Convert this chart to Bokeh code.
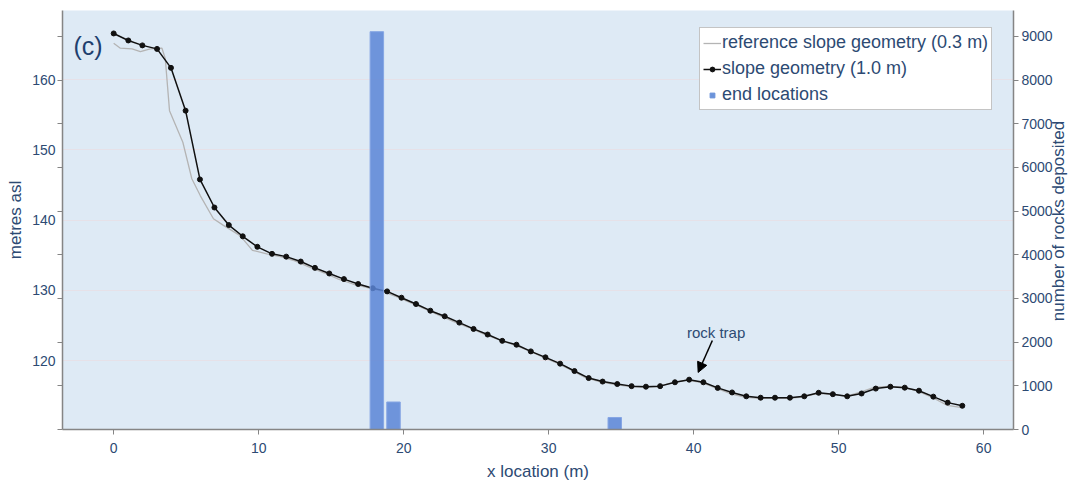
import math
from bokeh.plotting import figure
from bokeh.models import (Range1d, LinearAxis, FixedTicker, Legend, LegendItem,
                          Label, Arrow, NormalHead, ColumnDataSource)
from bokeh.embed import file_html
from bokeh.resources import INLINE

# ---------------- data ----------------
slope_x = [0.00, 1.01, 1.98, 2.99, 3.95, 4.96, 5.95, 6.95, 7.94, 8.90,
           9.91, 10.92, 11.90, 12.90, 13.88, 14.87, 15.88, 16.86, 17.87, 18.86,
           19.85, 20.85, 21.84, 22.83, 23.84, 24.82, 25.79, 26.80, 27.78, 28.77,
           29.78, 30.79, 31.78, 32.76, 33.72, 34.73, 35.72, 36.71, 37.69, 38.71,
           39.69, 40.67, 41.66, 42.65, 43.63, 44.62, 45.61, 46.64, 47.63, 48.62,
           49.60, 50.59, 51.58, 52.56, 53.57, 54.56, 55.54, 56.53, 57.52, 58.53]
slope_y = [166.6, 165.6, 164.9, 164.4, 161.7, 155.6, 145.8, 141.8, 139.3, 137.7,
           136.2, 135.2, 134.8, 134.1, 133.2, 132.4, 131.6, 130.9, 130.3, 129.85,
           128.95, 128.05, 127.1, 126.3, 125.4, 124.5, 123.7, 122.8, 122.25, 121.3,
           120.45, 119.55, 118.5, 117.5, 117.0, 116.65, 116.35, 116.27, 116.35, 116.9,
           117.27, 116.9, 116.1, 115.45, 114.9, 114.7, 114.7, 114.7, 114.9, 115.4,
           115.2, 114.9, 115.3, 116.0, 116.27, 116.13, 115.7, 114.85, 114.0, 113.55]

ref_x = [0.0, 0.46, 1.27, 1.84, 2.53, 3.33, 3.56, 3.85, 4.77, 5.39,
         5.97, 6.88, 7.57, 8.72, 9.57, 10.56, 11.5, 12.5, 13.5, 14.5,
         15.5, 16.5, 17.5, 18.5, 19.5, 20.5, 21.5, 22.5, 23.5, 24.5,
         25.5, 26.5, 27.5, 28.5, 29.5, 30.5, 31.5, 32.5, 33.5, 34.5,
         35.5, 36.5, 37.5, 38.5, 39.5, 40.5, 41.5, 42.5, 43.5, 44.5,
         45.5, 46.5, 47.5, 48.5, 49.5, 50.5, 51.5, 52.5, 53.5, 54.5,
         55.5, 56.5, 57.5, 58.5]
ref_y = [165.2, 164.5, 164.4, 164.0, 164.4, 164.5, 163.0, 155.6, 151.1, 145.9,
         143.5, 140.2, 139.25, 137.8, 135.7, 135.2, 134.8, 134.2, 133.3, 132.5,
         131.6, 130.9, 130.4, 129.9, 129.1, 128.2, 127.3, 126.4, 125.5, 124.7,
         123.8, 123.0, 122.3, 121.5, 120.6, 119.7, 118.7, 117.6, 117.0, 116.6,
         116.3, 116.2, 116.3, 116.8, 117.2, 116.9, 116.1, 115.3, 114.8, 114.6,
         114.6, 114.6, 114.8, 115.3, 115.2, 114.9, 115.5, 116.2, 116.3, 116.2,
         115.6, 114.7, 113.6, 113.3]

bar_x = [18.15, 19.30, 34.56]
bar_counts = [9110, 630, 275]
bar_width = 0.93

x_ticks = [0, 10, 20, 30, 40, 50, 60]
metre_ticks = [120, 130, 140, 150, 160]
rock_ticks = [0, 1000, 2000, 3000, 4000, 5000, 6000, 7000, 8000, 9000]

annot_text = "rock trap"
annot_text_xy = (41.55, 124.05)
annot_arrow_start = (41.29, 122.86)
annot_arrow_end = (40.31, 118.3)

# ---------------- style ----------------
X_RANGE = (-3.53, 62.06)
YM_RANGE = (110.17, 169.87)
YR_RANGE = (0, 9595)
FONT = "Liberation Sans"
TXT = "#2d4a73"
AXIS_GREY = "#858585"
RIGHT_TITLE = "number of rocks deposited"
RIGHT_TITLE_ANCHOR = 2480   # where the (bottom-to-top) right title starts

p = figure(width=1080, height=485, output_backend="svg", toolbar_location=None,
           x_range=Range1d(*X_RANGE), y_range=Range1d(*YM_RANGE),
           min_border_left=62, min_border_right=65, min_border_top=10,
           min_border_bottom=56)
p.extra_y_ranges = {"rocks": Range1d(*YR_RANGE)}
p.background_fill_color = "#deeaf5"
p.border_fill_color = "white"
p.outline_line_color = None

# bottom axis
xa = p.xaxis[0]
xa.ticker = FixedTicker(ticks=x_ticks)
xa.axis_label = "x location (m)"
p.xgrid.visible = False

# left axis (tick marks placed at the rock-count tick positions)
scale = (YM_RANGE[1] - YM_RANGE[0]) / (YR_RANGE[1] - YR_RANGE[0])
left_marks = [YM_RANGE[0] + r * scale for r in rock_ticks]
ya = p.yaxis[0]
ya.ticker = FixedTicker(ticks=metre_ticks, minor_ticks=left_marks)
ya.axis_label = "metres asl"
ya.major_tick_line_color = None
ya.minor_tick_out = 5
ya.minor_tick_in = 0
ya.minor_tick_line_color = AXIS_GREY
p.ygrid.grid_line_color = "#e6e1e8"
p.ygrid.grid_line_width = 1

# right axis with ticks and numbers
ra = LinearAxis(y_range_name="rocks", ticker=FixedTicker(ticks=rock_ticks))
p.add_layout(ra, "right")

for ax in (xa, ya, ra):
    ax.axis_line_color = AXIS_GREY
    ax.axis_line_width = 1.5
    ax.major_tick_out = 5
    ax.major_tick_in = 0
    ax.major_label_text_font = FONT
    ax.major_label_text_font_size = "14px"
    ax.major_label_text_color = TXT
    ax.axis_label_text_font = FONT
    ax.axis_label_text_font_size = "17px"
    ax.axis_label_text_font_style = "normal"
    ax.axis_label_text_color = TXT
for ax in (xa, ra):
    ax.major_tick_line_color = AXIS_GREY
xa.major_label_standoff = 8
xa.axis_label_standoff = 6
ya.major_label_standoff = 2
ya.axis_label_standoff = 4
ra.major_label_standoff = 3

# outer right axis carrying only the title (reads bottom-to-top)
rt = LinearAxis(y_range_name="rocks", ticker=FixedTicker(ticks=[RIGHT_TITLE_ANCHOR]),
                major_label_overrides={RIGHT_TITLE_ANCHOR: RIGHT_TITLE},
                major_label_orientation=math.pi / 2,
                axis_line_color=None, major_tick_line_color=None,
                minor_tick_line_color=None, major_tick_out=0, major_tick_in=0,
                major_label_standoff=3,
                major_label_text_font=FONT, major_label_text_font_size="17px",
                major_label_text_color=TXT)
p.add_layout(rt, "right")

# glyphs
r_ref = p.line(ref_x, ref_y, line_color="#b4b4b4", line_width=1.3)
r_line = p.line(slope_x, slope_y, line_color="#111111", line_width=1.5)
r_pts = p.scatter(slope_x, slope_y, size=5, color="#111111")
bar_src = ColumnDataSource(data=dict(x=bar_x, top=bar_counts))
r_bar = p.vbar(x="x", width=bar_width, top="top", bottom=0, source=bar_src,
               y_range_name="rocks", fill_color="#5a85d6", fill_alpha=0.85,
               line_color="#86a6e4", line_width=1)
# legend-only square marker (renderer hidden in the plot)
r_sq = p.scatter(x="x", y="top", source=bar_src, y_range_name="rocks",
                 marker="square", size=6, color="#6b93da", visible=False)

legend = Legend(items=[
    LegendItem(label="reference slope geometry (0.3 m)", renderers=[r_ref]),
    LegendItem(label="slope geometry (1.0 m)", renderers=[r_line, r_pts]),
    LegendItem(label="end locations", renderers=[r_sq]),
], location=(637, 319))
legend.label_text_font = FONT
legend.label_text_font_size = "18px"
legend.label_text_color = TXT
legend.border_line_color = "#8a8a8a"
legend.border_line_width = 1
legend.background_fill_color = "white"
legend.background_fill_alpha = 1
legend.inactive_fill_alpha = 0
legend.padding = 3
legend.spacing = 3
legend.margin = 0
legend.label_height = 23
legend.glyph_height = 12
legend.glyph_width = 18
legend.label_standoff = 1
p.add_layout(legend, "center")

# annotations
p.add_layout(Label(x=annot_text_xy[0], y=annot_text_xy[1], text=annot_text,
                   text_align="center", text_baseline="middle",
                   text_font=FONT, text_font_size="15px", text_color=TXT))
p.add_layout(Arrow(x_start=annot_arrow_start[0], y_start=annot_arrow_start[1],
                   x_end=annot_arrow_end[0], y_end=annot_arrow_end[1],
                   line_color="black", line_width=1.5,
                   end=NormalHead(size=10, fill_color="black", line_color="black")))
p.add_layout(Label(x=11, y=384, x_units="screen", y_units="screen", text="(c)",
                   text_align="left", text_baseline="middle",
                   text_font=FONT, text_font_size="25px", text_color="#1f3f6e"))

open("out.html", "w").write(file_html(p, INLINE))
